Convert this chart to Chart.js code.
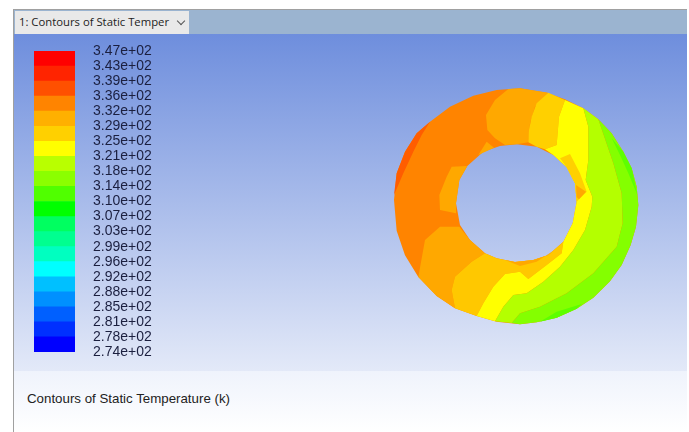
<!DOCTYPE html>
<html>
<head>
<meta charset="utf-8">
<title>Contours of Static Temperature</title>
<script src="https://cdn.jsdelivr.net/npm/chart.js@4"></script>
<style>
html, body { margin: 0; background: #fff; }
#panel { position: absolute; left: 13px; top: 9px; width: 674px; height: 423px; overflow: hidden;
         border-left: 1px solid #a0a0a0; border-top: 1px solid #a0a0a0; box-sizing: border-box; }
#strip { position: absolute; left: 0; top: 0; right: 0; height: 24px; background: #9bb4d0; }
#tab { position: absolute; left: 1px; top: 1px; width: 174px; height: 23px; background: #e9e9e9;
       font: 11.3px "Open Sans", sans-serif; color: #222; line-height: 22px; padding-left: 4px; box-sizing: border-box; }
#arrow { position: absolute; left: 163px; top: 7px; width: 5px; height: 5px; border-right: 1px solid #555;
         border-bottom: 1px solid #555; transform: rotate(45deg); }
#view { position: absolute; left: 0; top: 24px; right: 0; height: 337px;
        background: linear-gradient(#6e8edd, #e3e9f8); }
#note { position: absolute; left: 0; top: 361px; right: 0; bottom: 0;
        background: linear-gradient(#eff3fc, #ffffff); }
#note span { position: absolute; left: 13px; top: 20px; font: 13.3px "Liberation Sans", sans-serif; color: #222; }
canvas { position: absolute; }
#ringChart { filter: blur(0.5px); }
</style>
</head>
<body>
<div id="panel">
  <div id="strip"></div>
  <div id="tab">1: Contours of Static Temper<div id="arrow"></div></div>
  <div id="view"></div>
  <div id="note"><span>Contours of Static Temperature (k)</span></div>
</div>
<div style="position:absolute;left:14px;top:40px;width:160px;height:322px"><canvas id="scaleChart"></canvas></div>
<div style="position:absolute;left:380px;top:80px;width:270px;height:250px"><canvas id="ringChart"></canvas></div>
<script>
Chart.defaults.font.family = '"Liberation Sans", sans-serif';
Chart.defaults.animation = false;

// colour scale, bottom to top
const scaleLabels = ['2.74e+02', '2.78e+02', '2.81e+02', '2.85e+02', '2.88e+02', '2.92e+02', '2.96e+02',
    '2.99e+02', '3.03e+02', '3.07e+02', '3.10e+02', '3.14e+02', '3.18e+02', '3.21e+02', '3.25e+02',
    '3.29e+02', '3.32e+02', '3.36e+02', '3.39e+02', '3.43e+02', '3.47e+02'];
const scaleColors = ['#0000ff', '#0030ff', '#0060ff', '#0090ff', '#00c0ff', '#00ffff', '#00ffc0',
    '#00ff90', '#00ff60', '#00ff00', '#50ff00', '#8bff00', '#b9ff00', '#ffff00',
    '#ffd000', '#ffb000', '#ff8400', '#ff5000', '#ff2400', '#ff0000'];
const bandCount = [1];

// ring outline (x, y in the ring chart's units)
const outerRim = [[420,25],[500,38],[555,58],[610,85],[655,118],[695,160],[730,215],[755,265],[770,320],[775,375],
    [768,440],[752,495],[725,555],[690,604],[640,653],[590,686],[530,713],[470,727],[420,733],[350,725],[290,708],
    [225,685],[170,648],[115,591],[75,526],[50,452],[42,360],[50,280],[75,215],[110,160],[150,125],[210,80],[280,47],[350,30]];
const holeRim = [[410,193],[360,198],[310,215],[262,258],[238,300],[228,370],[240,435],[270,480],[315,520],[350,535],
    [405,546],[460,540],[505,525],[550,485],[578,430],[590,365],[585,310],[560,262],[520,225],[470,200]];

// contour bands, warmest first
const orangeLeft = [[150,125],[110,160],[75,215],[50,280],[42,345],[70,280],[100,215],[125,165]];
const amberTop = [[385,27],[420,25],[505,38],[465,80],[450,130],[445,187],[410,193],[375,195],[345,175],[322,150],[318,105],[345,60]];
const amberWedge = [[295,225],[320,185],[342,203]];
const amberInner = [[262,258],[215,260],[200,290],[178,345],[180,390],[228,400],[228,370],[238,300]];
const amberLower = [[115,591],[135,480],[180,440],[238,440],[270,480],[315,520],[275,545],[225,590],[215,630],[225,685],[170,648]];
const goldTop = [[505,38],[555,60],[537,110],[530,195],[495,208],[470,200],[445,187],[447,150],[455,110],[470,70]];
const goldLower = [[225,685],[215,630],[225,590],[275,545],[315,520],[350,535],[405,546],[460,540],[505,525],[550,485],
    [545,520],[500,555],[445,597],[420,575],[375,582],[340,620],[310,670],[290,708]];
const amberStrip = [[375,540],[420,558],[470,545],[520,512],[505,525],[460,540],[405,546]];
const yellowBand = [[555,60],[610,85],[625,140],[625,240],[617,300],[637,350],[635,380],[615,450],[580,510],[540,560],
    [490,605],[440,640],[400,645],[370,680],[345,724],[290,708],[310,670],[340,620],[375,582],[420,575],[445,597],
    [500,555],[545,520],[550,485],[578,430],[590,365],[585,310],[560,262],[520,225],[495,208],[530,195],[537,110]];
const goldRight = [[540,235],[570,222],[600,280],[620,335],[597,358],[590,365],[585,310],[560,262]];
const amberRight = [[588,315],[618,335],[597,358],[590,352]];
const limeBand = [[610,85],[655,118],[700,250],[725,340],[728,430],[710,500],[640,580],[560,640],[480,680],[420,700],
    [395,729],[345,724],[370,680],[400,645],[440,640],[490,605],[540,560],[580,510],[615,450],[635,380],[637,350],
    [617,300],[625,240],[625,140]];
const greenBand = [[655,118],[695,160],[730,215],[755,265],[770,320],[775,375],[768,440],[752,495],[725,555],[690,604],
    [640,653],[590,686],[530,713],[470,727],[420,733],[395,729],[420,700],[480,680],[560,640],[640,580],[710,500],
    [728,430],[725,340],[700,250]];
const brightRight = [[695,175],[730,215],[755,265],[772,345],[745,280],[720,225]];
const brightLower = [[480,725],[530,713],[590,686],[605,672],[530,695]];

const ringLayers = [
    [outerRim.concat([outerRim[0]], [holeRim[0]], holeRim, [holeRim[0]], [outerRim[0]]), '#ff8400'],
    [orangeLeft, '#ff5d00'],
    [amberTop, '#ffa800'], [amberWedge, '#ffa800'], [amberInner, '#ffa800'], [amberLower, '#ffa800'],
    [goldTop, '#ffd000'], [goldLower, '#ffc800'], [amberStrip, '#ffa800'],
    [yellowBand, '#ffff00'], [goldRight, '#ffd000'], [amberRight, '#ffa800'],
    [limeBand, '#b4ff00'], [greenBand, '#84ff00'],
    [brightRight, '#5dff00'], [brightLower, '#5dff00']
];

new Chart(document.getElementById('scaleChart'), {
    type: 'bar',
    data: {
        labels: [''],
        datasets: scaleColors.map(c => ({
            data: bandCount, backgroundColor: c, barPercentage: 1, categoryPercentage: 1
        }))
    },
    options: {
        responsive: true, maintainAspectRatio: false,
        layout: { padding: { top: 11, bottom: 10, left: 20 } },
        plugins: { legend: { display: false }, tooltip: { enabled: false } },
        scales: {
            x: { stacked: true, display: false },
            y: {
                stacked: true, position: 'right', min: 0, max: 20,
                grid: { display: false }, border: { display: false },
                afterFit: s => { s.width = 99; s.paddingTop = 0; s.paddingBottom = 0; },
                ticks: {
                    stepSize: 1, padding: 10, autoSkip: false, color: '#1b1f3f',
                    font: { size: 14 }, callback: v => scaleLabels[v]
                }
            }
        }
    }
});

new Chart(document.getElementById('ringChart'), {
    type: 'scatter',
    data: {
        datasets: ringLayers.slice().reverse().map(([pts, c]) => ({
            data: pts.map(([x, y]) => ({ x, y })),
            showLine: true, fill: 'shape', backgroundColor: c, borderWidth: 0, pointRadius: 0
        }))
    },
    options: {
        responsive: true, maintainAspectRatio: false,
        layout: { padding: 0 },
        plugins: { legend: { display: false }, tooltip: { enabled: false } },
        scales: {
            x: { display: false, min: 0, max: 810 },
            y: { display: false, min: 0, max: 750, reverse: true }
        }
    }
});
</script>
</body>
</html>
